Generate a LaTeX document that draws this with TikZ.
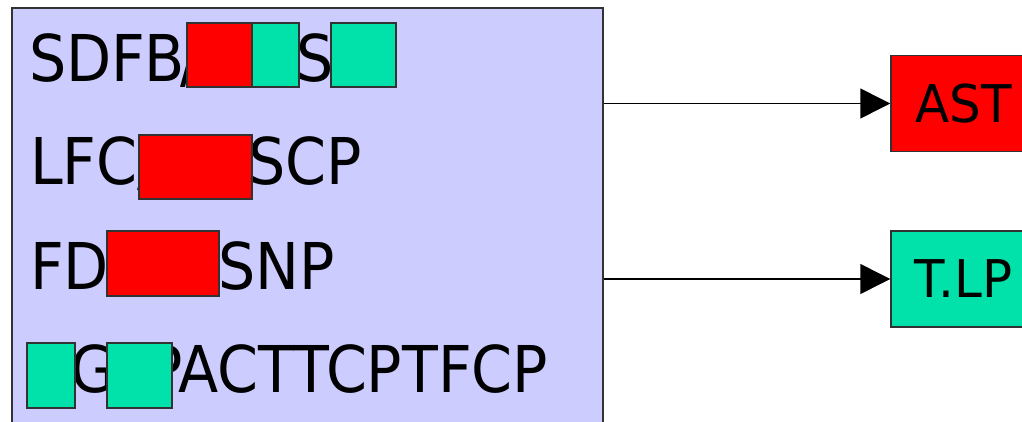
\documentclass[tikz,border=0pt]{standalone}
\usepackage{fontspec}
\usetikzlibrary{arrows.meta}
\newfontfamily\mainfnt[FakeStretch=0.91]{DejaVu Sans}
\newfontfamily\tgtfnt[FakeStretch=0.96]{DejaVu Sans}
\definecolor{lavender}{RGB}{204,204,255}
\definecolor{mint}{RGB}{0,226,170}
\definecolor{edge}{RGB}{50,50,50}
\tikzset{
  lbl/.style={anchor=base west, inner sep=0pt, outer sep=0pt,
              font=\mainfnt\fontsize{64.5}{70}\selectfont},
  redfill/.style={fill=red, draw=edge, line width=1.5pt},
  mintfill/.style={fill=mint, draw=edge, line width=1.5pt},
  target/.style={draw=edge, line width=1.5pt, minimum width=145pt,
                 minimum height=96pt, inner sep=0pt,
                 font=\tgtfnt\fontsize{52}{56}\selectfont},
  arr/.style={line width=1.5pt, -{Triangle[length=30pt, width=30pt]}}
}
\begin{document}
\begin{tikzpicture}[x=1pt, y=-1pt]
\useasboundingbox (0,0) rectangle (1022,422);
\clip (0,0) rectangle (1022,422);

% container
\node[draw=edge, fill=lavender, line width=1.5pt, minimum width=591pt,
      minimum height=440pt, inner sep=0pt] (main) at (307.5,228) {};

% line 1
\node[lbl] (l1a) at (29,82) {SDF\kern-1ptB\kern-4pt/};
\node[lbl] (l1b) at (296,82) {S};
\draw[redfill]  (187,23) rectangle (252,87);
\draw[mintfill] (252,23) rectangle (299,87);
\draw[mintfill] (331,23) rectangle (396,87);

% line 2
\node[lbl] (l2a) at (30,185) {LFC/};
\node[lbl] (l2b) at (248,185) {SCP};
\draw[redfill] (139,135) rectangle (252,199);

% line 3
\node[lbl] (l3a) at (30,289) {FD};
\node[lbl] (l3b) at (218,289) {SNP};
\draw[redfill] (107,231) rectangle (219,296);

% line 4
\node[lbl] (l4a) at (70,392) {G};
\node[lbl] (l4b) at (147,392) {PACTTCPTFCP};
\draw[mintfill] (27,343) rectangle (75,408);
\draw[mintfill] (107,343) rectangle (172,408);

% targets
\node[target, fill=red]  (ast) at (963.5,103.5) {AST};
\node[target, fill=mint] (tlp) at (963.5,279)   {T.LP};

\draw[arr] (main.east |- ast.west) -- (ast.west);
\draw[arr] (main.east |- tlp.west) -- (tlp.west);
\end{tikzpicture}
\end{document}
